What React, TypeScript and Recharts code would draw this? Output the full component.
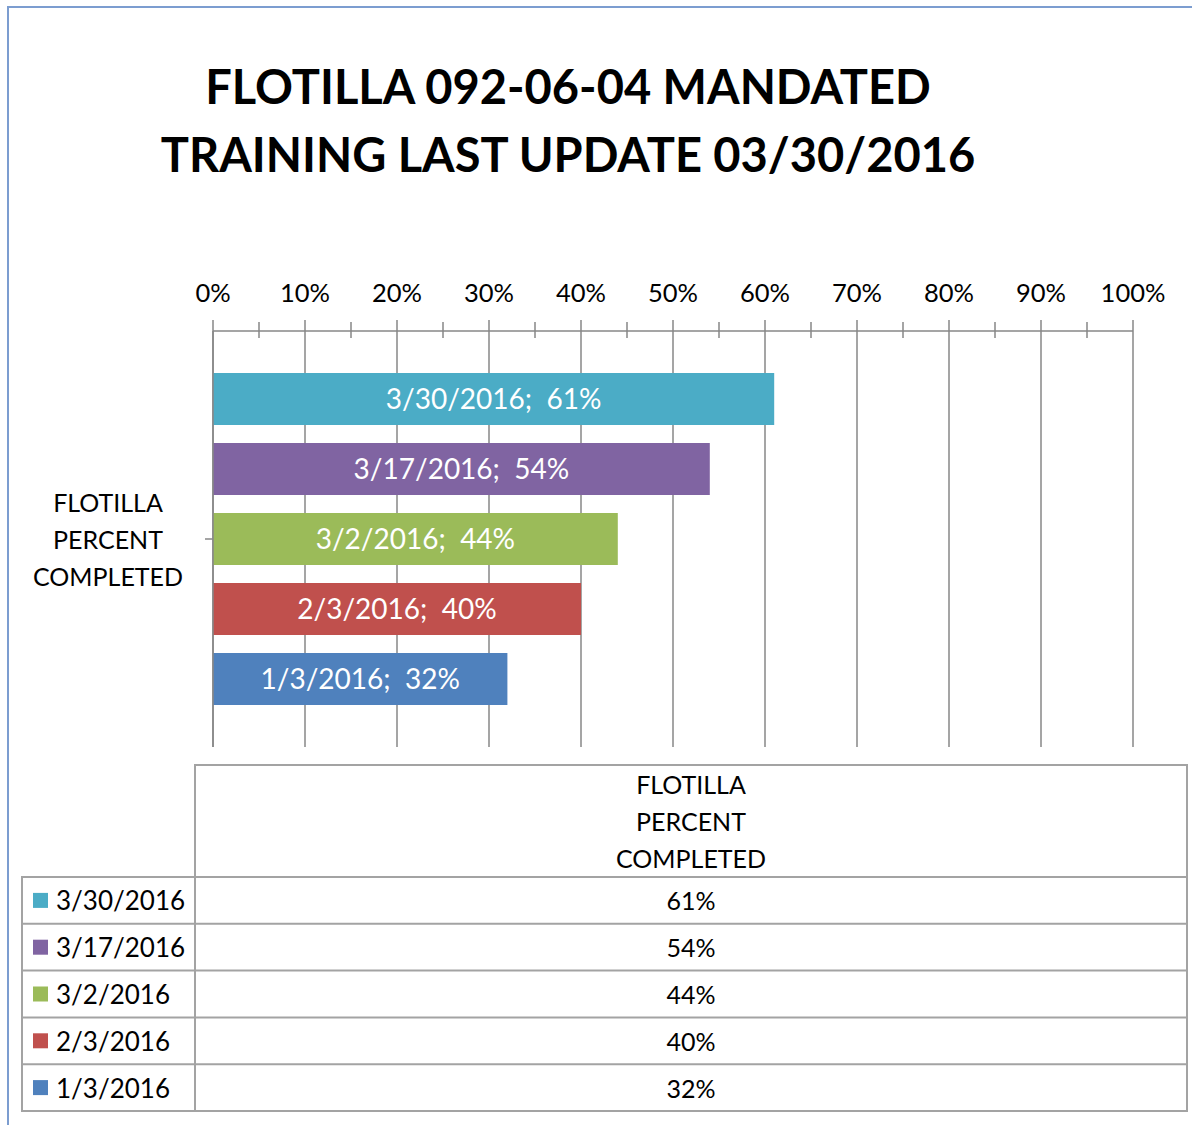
import React from 'react';
import { BarChart, Bar, XAxis, YAxis, CartesianGrid, LabelList } from 'recharts';

const FONT = 'Lato, "Open Sans", sans-serif';

const titleLines = ['FLOTILLA 092-06-04 MANDATED', 'TRAINING LAST UPDATE 03/30/2016'];
const categories = ['FLOTILLA PERCENT COMPLETED'];
const categoryLabelLines = ['FLOTILLA', 'PERCENT', 'COMPLETED'];
const seriesNames = ['3/30/2016', '3/17/2016', '3/2/2016', '2/3/2016', '1/3/2016'];
const seriesValues = [0.61, 0.54, 0.44, 0.4, 0.32];
const seriesColors = ['#4BACC6', '#8064A2', '#9BBB59', '#C0504D', '#4F81BD'];
const majorTicks = [0, 0.1, 0.2, 0.3, 0.4, 0.5, 0.6, 0.7, 0.8, 0.9, 1];
const minorTicks = [0.05, 0.15, 0.25, 0.35, 0.45, 0.55, 0.65, 0.75, 0.85, 0.95];

const data = categories.map((c) => {
  const row: Record<string, any> = { name: c };
  seriesNames.forEach((s, i) => {
    row['s' + i] = seriesValues[i];
  });
  return row;
});

const allTicks = [...majorTicks, ...minorTicks].sort((a, b) => a - b);
const pct = (v: number) => `${Math.round(v * 100)}%`;
const AXIS = '#878787';

const XTick = (props: any) => {
  const { x, y, payload } = props;
  const v = payload.value as number;
  const isMajor = majorTicks.some((m) => Math.abs(m - v) < 1e-9);
  if (isMajor) {
    return (
      <g>
        <line x1={x} x2={x} y1={y - 11} y2={y} stroke={AXIS} strokeWidth={1.5} />
        <text x={x} y={y - 39} textAnchor="middle" dominantBaseline="central" fontSize={25.5} fill="#000" fontFamily={FONT}>
          {pct(v)}
        </text>
      </g>
    );
  }
  return <line x1={x} x2={x} y1={y - 9} y2={y + 7} stroke={AXIS} strokeWidth={1.5} />;
};

const YTick = (props: any) => {
  const { x, y } = props;
  return (
    <g>
      {categoryLabelLines.map((l, i) => (
        <text key={i} x={x - 97} y={y + (i - 1) * 37} textAnchor="middle" dominantBaseline="central" fontSize={25} fill="#000" fontFamily={FONT}>
          {l}
        </text>
      ))}
    </g>
  );
};

const TABLE_LEFT = 22;
const TABLE_MID = 195;
const TABLE_RIGHT = 1187;
const HEADER_TOP = 765;
const ROWS_TOP = 877;
const ROW_H = 46.8;
const GRID = '#A3A3A3';

export default function App() {
  const tableBottom = ROWS_TOP + ROW_H * seriesNames.length;
  return (
    <div style={{ position: 'absolute', left: 0, top: 0, width: 1192, height: 1125, overflow: 'hidden', background: '#fff', fontFamily: FONT }}>
      <div style={{ position: 'absolute', left: 7, top: 6, width: 1400, height: 1400, border: '2px solid #7C9DD0', boxSizing: 'border-box' }} />
      <svg width={1192} height={1125} style={{ position: 'absolute', left: 0, top: 0 }}>
        {titleLines.map((t, i) => (
          <text key={i} x={568} y={86 + i * 68} textAnchor="middle" dominantBaseline="central" fontSize={47} fontWeight="bold" fill="#000" fontFamily={FONT}>
            {t}
          </text>
        ))}
        {/* data table */}
        <rect x={TABLE_MID} y={HEADER_TOP} width={TABLE_RIGHT - TABLE_MID} height={tableBottom - HEADER_TOP} fill="none" stroke={GRID} strokeWidth={2} />
        <rect x={TABLE_LEFT} y={ROWS_TOP} width={TABLE_MID - TABLE_LEFT} height={tableBottom - ROWS_TOP} fill="none" stroke={GRID} strokeWidth={2} />
        {seriesNames.map((_, i) => (
          <line key={i} x1={TABLE_LEFT} x2={TABLE_RIGHT} y1={ROWS_TOP + i * ROW_H} y2={ROWS_TOP + i * ROW_H} stroke={GRID} strokeWidth={2} />
        ))}
        {categoryLabelLines.map((l, i) => (
          <text key={i} x={691} y={784 + i * 37} textAnchor="middle" dominantBaseline="central" fontSize={25} fill="#000" fontFamily={FONT}>
            {l}
          </text>
        ))}
        {seriesNames.map((s, i) => {
          const cy = ROWS_TOP + i * ROW_H + ROW_H / 2;
          return (
            <g key={s}>
              <rect x={33} y={cy - 7.5} width={15} height={15} fill={seriesColors[i]} />
              <text x={56} y={cy} dominantBaseline="central" fontSize={26} fill="#000" fontFamily={FONT}>
                {s}
              </text>
              <text x={691} y={cy} textAnchor="middle" dominantBaseline="central" fontSize={25} fill="#000" fontFamily={FONT}>
                {pct(seriesValues[i])}
              </text>
            </g>
          );
        })}
      </svg>
      <div style={{ position: 'absolute', left: 0, top: 0 }}>
        <BarChart
          width={1192}
          height={760}
          data={data}
          layout="vertical"
          margin={{ top: 250, right: 59, bottom: 13, left: 0 }}
          barGap={18}
          barCategoryGap={42}
        >
          <CartesianGrid horizontal={false} vertical verticalValues={majorTicks} stroke={AXIS} strokeWidth={1.5} />
          <XAxis
            type="number"
            orientation="top"
            domain={[0, 1]}
            ticks={allTicks}
            interval={0}
            height={81}
            tickSize={0}
            tickMargin={0}
            tickLine={false}
            axisLine={{ stroke: AXIS, strokeWidth: 1.5 }}
            tick={<XTick />}
          />
          <YAxis
            type="category"
            dataKey="name"
            width={213}
            tickSize={8}
            tickMargin={0}
            tickLine={{ stroke: AXIS, strokeWidth: 1.5 }}
            axisLine={{ stroke: AXIS, strokeWidth: 1.5 }}
            tick={<YTick />}
          />
          {seriesNames.map((s, i) => (
            <Bar key={s} dataKey={'s' + i} name={s} fill={seriesColors[i]} isAnimationActive={false}>
              <LabelList
                dataKey={'s' + i}
                position="center"
                fill="#fff"
                fontSize={28}
                fontFamily={FONT}
                formatter={(v: any) => `${s};\u00A0 ${pct(Number(v))}`}
              />
            </Bar>
          ))}
        </BarChart>
      </div>
    </div>
  );
}
